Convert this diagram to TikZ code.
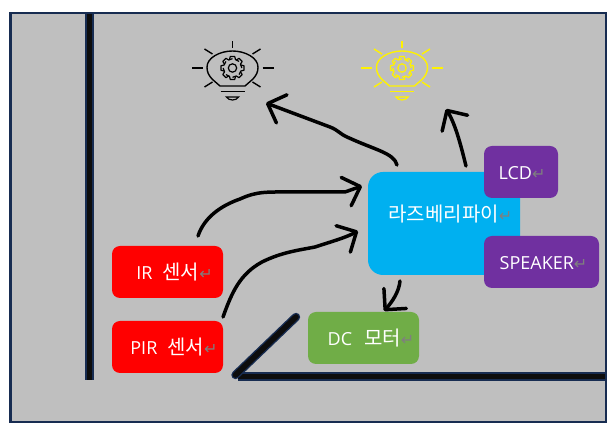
\documentclass[tikz,border=0pt]{standalone}
\usepackage{fontspec}
\setmainfont{Open Sans}
\newfontfamily\cjk{Noto Sans CJK KR}
\newfontfamily\dejavu{DejaVu Sans}
\usetikzlibrary{arrows.meta}
\definecolor{floorgray}{HTML}{BFBFBF}
\definecolor{wallnavy}{HTML}{172C51}
\definecolor{wallblack}{HTML}{0D0D0D}
\definecolor{pipblue}{HTML}{00B0F0}
\definecolor{outpurple}{HTML}{7030A0}
\definecolor{motorgreen}{HTML}{70AD47}
\definecolor{markgray}{HTML}{7F7F7F}
\newcommand{\retmark}{{\dejavu\fontsize{16}{16}\selectfont\textcolor{markgray}{↵}}}
\newcommand{\hg}[1]{{\cjk\fontsize{20}{22}\selectfont #1}}
\tikzset{
    box/.style={rounded corners=8pt, text=white, inner sep=0pt, text height=18pt, text depth=2pt, font=\fontsize{18}{20}\selectfont},
    wall/.style={draw=wallnavy, line width=1.4pt, double=wallblack, double distance=5.6pt},
    wire/.style={line width=3.5pt, line cap=round, line join=round, -{Straight Barb[length=15pt,width=30pt,line width=3.5pt,round]}},
    bulb/.pic={
        \draw[line width=1.4pt, line join=round] (-12.5,18) -- (-20.5,11) .. controls (-24,7) and (-25.5,4) .. (-25.5,-1) .. controls (-25.5,-10) and (-13,-17) .. (0,-17) .. controls (13,-17) and (25.5,-10) .. (25.5,-1) .. controls (25.5,4) and (24,7) .. (20.5,11) -- (12.5,18) -- cycle;
        \draw[line width=1.2pt] (-12,23.5) -- (12,23.5);
        \draw[line width=1.2pt] (-6,29) -- (6,29) .. controls (4,33) and (-4,33) .. (-6,29) -- cycle;
        \draw[line width=1.2pt] (0,0) circle [radius=4.2pt];
        \foreach \a in {0,45,...,315}
            \draw[line width=1.2pt, line join=round, rotate=\a] (8.3,-3) -- (11.5,-2.2) -- (11.5,2.2) -- (8.3,3) -- (6.6,6.6);
        \foreach \x/\y/\u/\v in {-30/0/-41/0, 30/0/41/0, 0/-20/0/-27, -20/-14/-28/-19, 20/-14/28/-19, -20/14/-28/19, 20/14/28/19}
            \draw[line width=1.4pt] (\x,\y) -- (\u,\v);
    }
}
\begin{document}
\begin{tikzpicture}[x=1pt, y=-1pt]
    \useasboundingbox (0,0) rectangle (614,435);
    \fill[floorgray] (10.5,13) rectangle (606,422);

    % walls
    \draw[wall, line width=2.2pt, double distance=4.6pt] (89.5,14) -- (89.5,380);
    \draw[wall] (238,376.5) -- (605,376.5);
    \draw[wall, line cap=round] (235.5,375) -- (296,317);
    \draw[wallnavy, line width=2.5pt] (10.5,13) rectangle (606,422);

    % lamps
    \pic[black] at (232.5,68) {bulb};
    \pic[yellow] at (402,68) {bulb};

    % boxes
    \node[box, fill=pipblue, rounded corners=15pt, minimum width=152pt, minimum height=103pt] (pi) at (444,223.5) {\raisebox{9.5pt}[0pt][0pt]{\hspace*{13pt}\hg{라즈베리파이}\retmark}};
    \node[box, fill=outpurple, minimum width=74pt, minimum height=52pt] (lcd) at (521,172) {\hspace*{2pt}LCD\retmark};
    \node[box, fill=outpurple, minimum width=115pt, minimum height=52pt] (speaker) at (541.5,262) {\hspace*{4pt}SPEAKER\retmark};
    \node[box, fill=red, minimum width=111pt, minimum height=52pt] (ir) at (167.5,272) {\hspace*{14pt}IR\hspace{10pt}\hg{센서}\retmark};
    \node[box, fill=red, minimum width=111pt, minimum height=52pt] (pir) at (167.5,347) {\hspace*{13pt}PIR\hspace{10pt}\hg{센서}\retmark};
    \node[box, fill=motorgreen, minimum width=111pt, minimum height=52pt] (motor) at (363.5,338) {\hspace*{15pt}DC\hspace{12pt}\hg{모터}\retmark};

    % wire ends
    \coordinate (piA) at (397,165);
    \coordinate (piB) at (466,166);
    \coordinate (piC) at (400,281);
    \coordinate (irEnd) at (198,236);
    \coordinate (pirEnd) at (223,317);
    \coordinate (lampA) at (266,103);
    \coordinate (lampB) at (446,109);
    \coordinate (piIn) at (362,186);
    \coordinate (piInB) at (358,231);
    \coordinate (motorIn) at (384,311);

    \draw[wire] (piA) .. controls (394,153) and (375,150) .. (347,137) .. controls (340,134) and (338,130) .. (330,127) -- (lampA);
    \draw[wire] (piB) .. controls (462,150) and (456,125) .. (lampB);
    \draw[wire] (irEnd) .. controls (204,218) and (220,206) .. (240,199) .. controls (258,191) and (265,192) .. (300,192) -- (345,192) -- (piIn);
    \draw[wire] (pirEnd) .. controls (232,292) and (240,274) .. (262,262) .. controls (282,252) and (300,250) .. (315,247) .. controls (330,242) and (345,238) .. (piInB);
    \draw[wire] (piC) .. controls (399,292) and (392,302) .. (motorIn);
\end{tikzpicture}
\end{document}
